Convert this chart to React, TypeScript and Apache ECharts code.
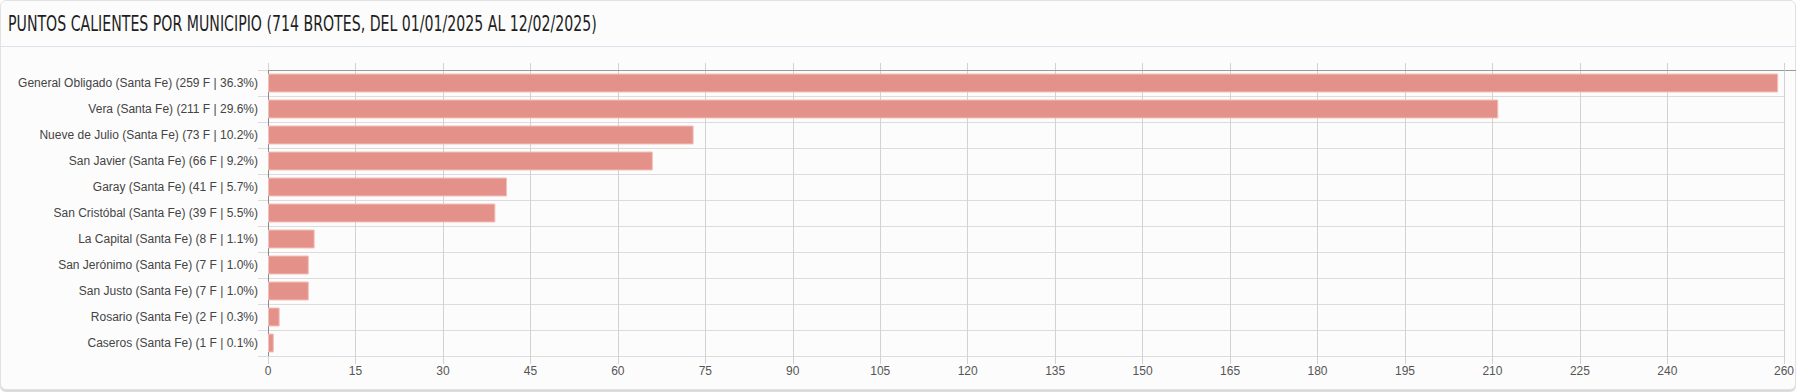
import React, { useEffect, useRef } from "react";
import * as echarts from "echarts";

const titleText = "PUNTOS CALIENTES POR MUNICIPIO (714 BROTES, DEL 01/01/2025 AL 12/02/2025)";
const municipios = [
  "General Obligado",
  "Vera",
  "Nueve de Julio",
  "San Javier",
  "Garay",
  "San Cristóbal",
  "La Capital",
  "San Jerónimo",
  "San Justo",
  "Rosario",
  "Caseros",
];
const provincia = "Santa Fe";
const focos = [259, 211, 73, 66, 41, 39, 8, 7, 7, 2, 1];
const porcentajes = ["36.3", "29.6", "10.2", "9.2", "5.7", "5.5", "1.1", "1.0", "1.0", "0.3", "0.1"];
const xTicks = [0, 15, 30, 45, 60, 75, 90, 105, 120, 135, 150, 165, 180, 195, 210, 225, 240, 260];
const xMin = 0;
const xMax = 260;

const categories = municipios.map(
  (m, i) => `${m} (${provincia}) (${focos[i]} F | ${porcentajes[i]}%)`
);

export default function App() {
  const ref = useRef<HTMLDivElement>(null);
  useEffect(() => {
    document.body.style.margin = "0";
    document.body.style.background = "#ffffff";
    const chart = echarts.init(ref.current!, null, { renderer: "svg" });
    const labelFont = '"Liberation Sans", Arial, sans-serif';
    chart.setOption({
      animation: false,
      graphic: [
        {
          type: "text",
          x: 8,
          y: 24,
          scaleX: 0.715,
          style: {
            text: titleText,
            font: '22px "DejaVu Sans Condensed", sans-serif',
            fill: "#1e1e1e",
            verticalAlign: "middle",
            align: "left",
          },
        },
        {
          type: "line",
          shape: { x1: 0, y1: 46.5, x2: 1796, y2: 46.5 },
          style: { stroke: "#dde3ea", lineWidth: 1 },
        },
        {
          type: "line",
          shape: { x1: 1784, y1: 70.5, x2: 1796, y2: 70.5 },
          style: { stroke: "#9a9a9a", lineWidth: 1 },
        },
      ],
      grid: { left: 268, top: 70, width: 1516, height: 286 },
      xAxis: [
        {
          type: "value",
          position: "bottom",
          min: xMin,
          max: xMax,
          axisLine: { show: true, lineStyle: { color: "#dcdcdc" } },
          axisTick: { show: true, length: 8, customValues: xTicks, lineStyle: { color: "#d2d2d2" } },
          axisLabel: {
            customValues: xTicks,
            color: "#555555",
            fontSize: 12,
            fontFamily: labelFont,
            margin: 9,
          },
          splitLine: { show: true, lineStyle: { color: "#d2d2d2" } },
        },
        {
          type: "value",
          position: "top",
          min: xMin,
          max: xMax,
          axisLine: { show: true, lineStyle: { color: "#9a9a9a" } },
          axisTick: { show: true, length: 7, customValues: xTicks, lineStyle: { color: "#d2d2d2" } },
          axisLabel: { show: false },
          splitLine: { show: false },
        },
      ],
      yAxis: {
        type: "category",
        inverse: true,
        data: categories,
        axisLine: { show: true, lineStyle: { color: "#8a8a8a" } },
        axisTick: { show: true, length: 10, lineStyle: { color: "#dcdcdc" } },
        axisLabel: { color: "#444444", fontSize: 12, fontFamily: labelFont, margin: 10 },
        splitLine: { show: true, lineStyle: { color: "#dcdcdc" } },
      },
      series: [
        {
          type: "bar",
          xAxisIndex: 0,
          data: focos,
          barWidth: 19,
          itemStyle: { color: "#e4918a", borderColor: "#f2c1ba", borderWidth: 1 },
        },
      ],
    });
    return () => chart.dispose();
  }, []);
  return (
    <div style={{ position: "relative", width: 1798, height: 392, background: "#ffffff" }}>
      <div
        style={{
          position: "absolute",
          left: 0,
          top: 0,
          width: 1794,
          height: 388,
          border: "1px solid #e2e2e2",
          borderRadius: 6,
          background: "#fcfcfc",
          boxShadow: "0 2px 1px rgba(0,0,0,0.15)",
        }}
      />
      <div ref={ref} style={{ position: "absolute", left: 0, top: 0, width: 1798, height: 392 }} />
    </div>
  );
}
